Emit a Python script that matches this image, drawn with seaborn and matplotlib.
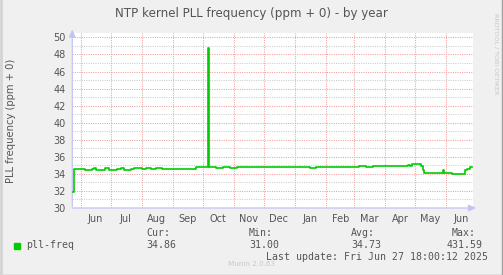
import matplotlib
matplotlib.use("Agg")
import matplotlib.pyplot as plt
import matplotlib.dates as mdates
from matplotlib.ticker import MultipleLocator
import seaborn as sns
import pandas as pd
from datetime import datetime

# ---- data ----
dates = [
    "2024-05-24", "2024-05-25", "2024-06-05", "2024-06-12", "2024-06-14", "2024-06-16",
    "2024-06-25", "2024-06-29", "2024-07-07", "2024-07-11", "2024-07-14", "2024-07-21",
    "2024-07-24", "2024-08-01", "2024-08-05", "2024-08-10", "2024-08-15", "2024-08-21",
    "2024-08-28", "2024-09-04", "2024-09-14", "2024-09-18", "2024-09-24", "2024-09-30",
    "2024-10-06", "2024-10-07", "2024-10-14", "2024-10-21", "2024-10-28", "2024-11-04",
    "2024-11-11", "2024-11-18", "2024-11-25", "2024-12-02", "2024-12-09", "2024-12-16",
    "2024-12-23", "2024-12-30", "2025-01-06", "2025-01-12", "2025-01-16", "2025-01-22",
    "2025-01-30", "2025-02-06", "2025-02-13", "2025-02-20", "2025-02-27", "2025-03-06",
    "2025-03-13", "2025-03-20", "2025-03-27", "2025-04-03", "2025-04-10", "2025-04-17",
    "2025-04-24", "2025-04-26", "2025-04-28", "2025-05-07", "2025-05-09", "2025-05-10",
    "2025-05-20", "2025-05-29", "2025-05-30", "2025-06-07", "2025-06-20", "2025-06-22",
    "2025-06-25", "2025-06-27",
]
pll_freq = [
    31.9, 34.55, 34.50, 34.55, 34.65, 34.50,
    34.65, 34.45, 34.55, 34.65, 34.45, 34.55,
    34.65, 34.60, 34.65, 34.55, 34.65, 34.55,
    34.55, 34.55, 34.55, 34.60, 34.80, 34.75,
    48.70, 34.75, 34.70, 34.75, 34.70, 34.78,
    34.75, 34.80, 34.78, 34.82, 34.80, 34.85,
    34.82, 34.85, 34.80, 34.85, 34.72, 34.82,
    34.85, 34.82, 34.86, 34.84, 34.86, 34.88,
    34.86, 34.90, 34.88, 34.90, 34.88, 34.92,
    35.00, 34.90, 35.20, 34.90, 34.40, 34.10,
    34.15, 34.50, 34.05, 33.95, 34.40, 34.55,
    34.78, 34.86,
]
y_ticks = [30, 32, 34, 36, 38, 40, 42, 44, 46, 48, 50]
legend_name = "pll-freq"
stats_labels = ["Cur:", "Min:", "Avg:", "Max:"]
stats_values = ["34.86", "31.00", "34.73", "431.59"]

title = "NTP kernel PLL frequency (ppm + 0) - by year"
ylabel = "PLL frequency (ppm + 0)"
last_update = "Last update: Fri Jun 27 18:00:12 2025"

df = pd.DataFrame({"date": pd.to_datetime(dates), "value": pll_freq})

W, H = 503, 275
fig = plt.figure(figsize=(W / 100, H / 100), dpi=100, facecolor="#F0F0F0")

L, R, T, B = 72.3, 473.0, 32.7, 208.0
ax = fig.add_axes([L / W, 1 - B / H, (R - L) / W, (B - T) / H])
ax.set_facecolor("white")

sns.lineplot(data=df, x="date", y="value", ax=ax, color="#00CC00", lw=1.2,
             drawstyle="steps-post", estimator=None, zorder=5)

x0 = datetime(2024, 5, 23, 18)
x1 = datetime(2025, 6, 27, 18)
ax.set_xlim(x0, x1)
ax.set_ylim(30, 50.55)

# grids
ax.xaxis.set_major_locator(mdates.MonthLocator())
ax.xaxis.set_minor_locator(mdates.MonthLocator(bymonthday=16))
ax.xaxis.set_major_formatter(plt.NullFormatter())
ax.xaxis.set_minor_formatter(mdates.DateFormatter("%b"))
ax.set_yticks(y_ticks)
ax.yaxis.set_minor_locator(MultipleLocator(1))

dot = (0, (1, 1.2))
for yv in range(31, 51, 2):
    ax.axhline(yv, color="#CCCCCC", lw=0.75, ls=dot, zorder=1)
for yv in y_ticks:
    ax.axhline(yv, color="#F2A0A0", lw=0.75, ls=dot, zorder=2)
for m in pd.date_range("2024-06-01", "2025-06-01", freq="MS"):
    ax.axvline(m, color="#F2A0A0", lw=0.75, ls=dot, zorder=2)

ax.tick_params(axis="both", which="both", length=0, colors="#555555")
ax.tick_params(axis="y", which="major", labelsize=7, pad=4.8)
ax.tick_params(axis="x", which="minor", labelsize=7, pad=4.0)
ax.set_xlabel("")
ax.set_ylabel("")
for s in ax.spines.values():
    s.set_visible(False)

# axis lines with arrows
axis_col = "#C4C4F4"
ax.annotate("", xy=(0, 1.035), xytext=(0, -0.01), xycoords="axes fraction",
            arrowprops=dict(arrowstyle="-|>,head_length=0.45,head_width=0.2", color=axis_col, lw=0.9),
            annotation_clip=False)
ax.annotate("", xy=(1.015, 0), xytext=(-0.006, 0), xycoords="axes fraction",
            arrowprops=dict(arrowstyle="-|>,head_length=0.45,head_width=0.2", color=axis_col, lw=0.9),
            annotation_clip=False)

# texts
fig.text(251.5 / W, 1 - 14 / H, title, ha="center", va="center", fontsize=8.6, color="#555555")
fig.text(11 / W, 1 - 121 / H, ylabel, ha="center", va="center", rotation=90, fontsize=7.2, color="#555555")
fig.text(496 / W, 1 - 54 / H, "RRDTOOL / TOBI OETIKER", ha="center", va="center", rotation=270,
         fontsize=4.6, color="#C8C8C8")
fig.text(252 / W, 1 - 264.5 / H, "Munin 2.0.63", ha="center", va="center", fontsize=5.2, color="#C8C8C8")

mono = dict(family="DejaVu Sans Mono", fontsize=7.1, color="#555555", va="center")
fig.patches.append(plt.Rectangle((14 / W, 1 - 248.5 / H), 5.5 / W, 5.5 / H, transform=fig.transFigure,
                                 color="#00CC00", figure=fig))
fig.text(26 / W, 1 - 245.5 / H, legend_name, ha="left", **mono)
lab_x = [146, 249, 351, 452]
val_x = [146, 249, 351, 446.5]
for lx, vx, lab, val in zip(lab_x, val_x, stats_labels, stats_values):
    fig.text(lx / W, 1 - 233.5 / H, lab, ha="left", **mono)
    fig.text(vx / W, 1 - 245.5 / H, val, ha="left", **mono)
fig.text(488 / W, 1 - 256.8 / H, last_update, ha="right", **mono)

# image border
fig.add_artist(plt.Line2D([0, 1], [0.5 / H, 0.5 / H], transform=fig.transFigure, color="#A0A0A0", lw=1))
fig.add_artist(plt.Line2D([1 - 1.5 / W, 1 - 1.5 / W], [0, 1], transform=fig.transFigure, color="#A0A0A0", lw=1))
fig.add_artist(plt.Line2D([1 / W, 1 / W], [0, 1], transform=fig.transFigure, color="#D4D4D4", lw=2))

fig.savefig("out.png", dpi=100, facecolor=fig.get_facecolor())
